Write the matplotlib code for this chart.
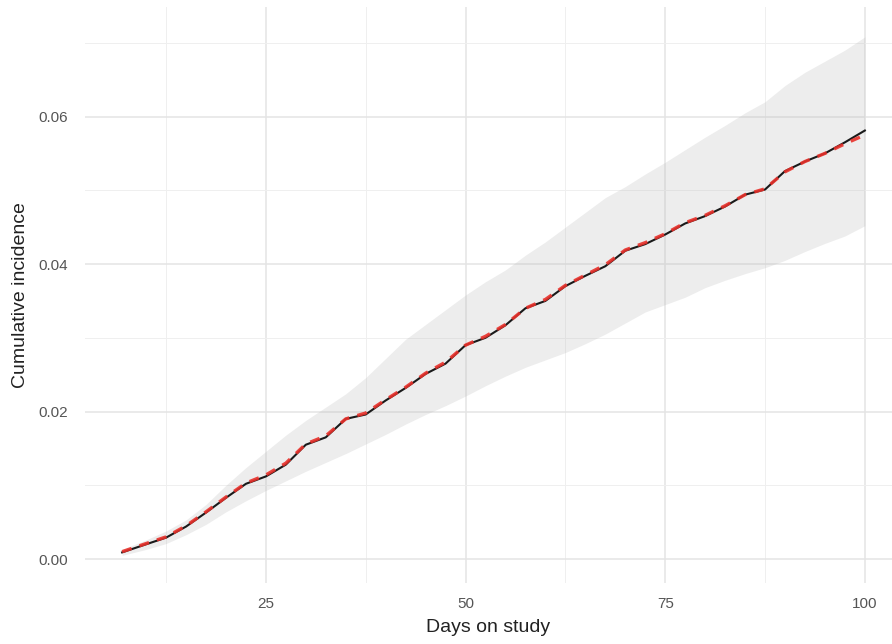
import matplotlib.pyplot as plt
import numpy as np

# days on study
days = [7, 10, 12.5, 15, 17.5, 20, 22.5, 25, 27.5, 30, 32.5, 35, 37.5, 40,
        42.5, 45, 47.5, 50, 52.5, 55, 57.5, 60, 62.5, 65, 67.5, 70, 72.5,
        75, 77.5, 80, 82.5, 85, 87.5, 90, 92.5, 95, 97.5, 100]

# observed cumulative incidence (black)
observed = [0.0009, 0.0020, 0.0029, 0.0044, 0.0063, 0.0083, 0.0102, 0.0112,
            0.0128, 0.0155, 0.0165, 0.0190, 0.0196, 0.0215, 0.0232, 0.0251,
            0.0265, 0.0290, 0.0300, 0.0317, 0.0340, 0.0350, 0.0370, 0.0384,
            0.0397, 0.0418, 0.0427, 0.0440, 0.0455, 0.0465, 0.0478, 0.0494,
            0.0501, 0.0526, 0.0539, 0.0550, 0.0565, 0.0581]

# predicted cumulative incidence (red dashed)
predicted = [0.0010, 0.0021, 0.0030, 0.0045, 0.0064, 0.0084, 0.0103, 0.0114,
             0.0130, 0.0156, 0.0167, 0.0190, 0.0198, 0.0216, 0.0233, 0.0252,
             0.0267, 0.0290, 0.0302, 0.0318, 0.0340, 0.0352, 0.0371, 0.0385,
             0.0399, 0.0419, 0.0429, 0.0441, 0.0456, 0.0466, 0.0479, 0.0494,
             0.0502, 0.0525, 0.0539, 0.0550, 0.0563, 0.0575]

# confidence band
upper = [0.0013, 0.0026, 0.0038, 0.0053, 0.0074, 0.0100, 0.0124, 0.0146,
         0.0168, 0.0188, 0.0206, 0.0224, 0.0246, 0.0272, 0.0298, 0.0318,
         0.0338, 0.0358, 0.0376, 0.0392, 0.0412, 0.0430, 0.0450, 0.0470,
         0.0490, 0.0505, 0.0522, 0.0538, 0.0555, 0.0572, 0.0588, 0.0605,
         0.0620, 0.0642, 0.0660, 0.0675, 0.0690, 0.0708]
lower = [0.0005, 0.0013, 0.0021, 0.0033, 0.0047, 0.0064, 0.0079, 0.0093,
         0.0106, 0.0119, 0.0131, 0.0143, 0.0156, 0.0169, 0.0183, 0.0196,
         0.0208, 0.0221, 0.0235, 0.0248, 0.0260, 0.0270, 0.0280, 0.0292,
         0.0305, 0.0320, 0.0335, 0.0345, 0.0355, 0.0368, 0.0378, 0.0387,
         0.0395, 0.0405, 0.0417, 0.0428, 0.0438, 0.0452]

x_ticks = [25, 50, 75, 100]
y_ticks = [0.00, 0.02, 0.04, 0.06]
y_labels = ["0.00", "0.02", "0.04", "0.06"]


def main():
    plt.rcParams['font.family'] = ['Liberation Sans', 'DejaVu Sans']
    fig = plt.figure(figsize=(8.92, 6.44), dpi=100)
    ax = fig.add_axes([85 / 892, 61 / 644, 807 / 892, 576 / 644])

    # grid like ggplot theme_minimal
    ax.set_axisbelow(True)
    ax.set_xticks(x_ticks)
    ax.set_xticks([12.5, 37.5, 62.5, 87.5], minor=True)
    ax.set_yticks(y_ticks)
    ax.set_yticklabels(y_labels)
    ax.set_yticks([0.01, 0.03, 0.05, 0.07], minor=True)
    ax.grid(which="major", color="#e4e4e4", linewidth=1.1)
    ax.grid(which="minor", color="#efefef", linewidth=0.7)
    for s in ax.spines.values():
        s.set_visible(False)
    ax.tick_params(which="both", length=0)
    ax.tick_params(axis="y", pad=12, labelsize=11, labelcolor="#555555")
    ax.tick_params(axis="x", pad=10, labelsize=11, labelcolor="#555555")

    # ribbon + lines
    ax.fill_between(days, lower, upper, color="#bdbdbd", alpha=0.27, linewidth=0)
    ax.plot(days, observed, color="#1a1a1a", linewidth=1.5)
    ax.plot(days, predicted, color="#e8302a", linewidth=2.4, linestyle=(0, (3, 2.5)), alpha=0.9)

    ax.set_xlim(2.35, 103.4)
    ax.set_ylim(-0.00325, 0.07485)

    ax.set_xlabel("Days on study", fontsize=14, color="#222222", labelpad=6)
    ax.set_ylabel("Cumulative incidence", fontsize=14, color="#222222", labelpad=7)

    fig.savefig("out.png", dpi=100, facecolor="white")


if __name__ == '__main__':
    main()
